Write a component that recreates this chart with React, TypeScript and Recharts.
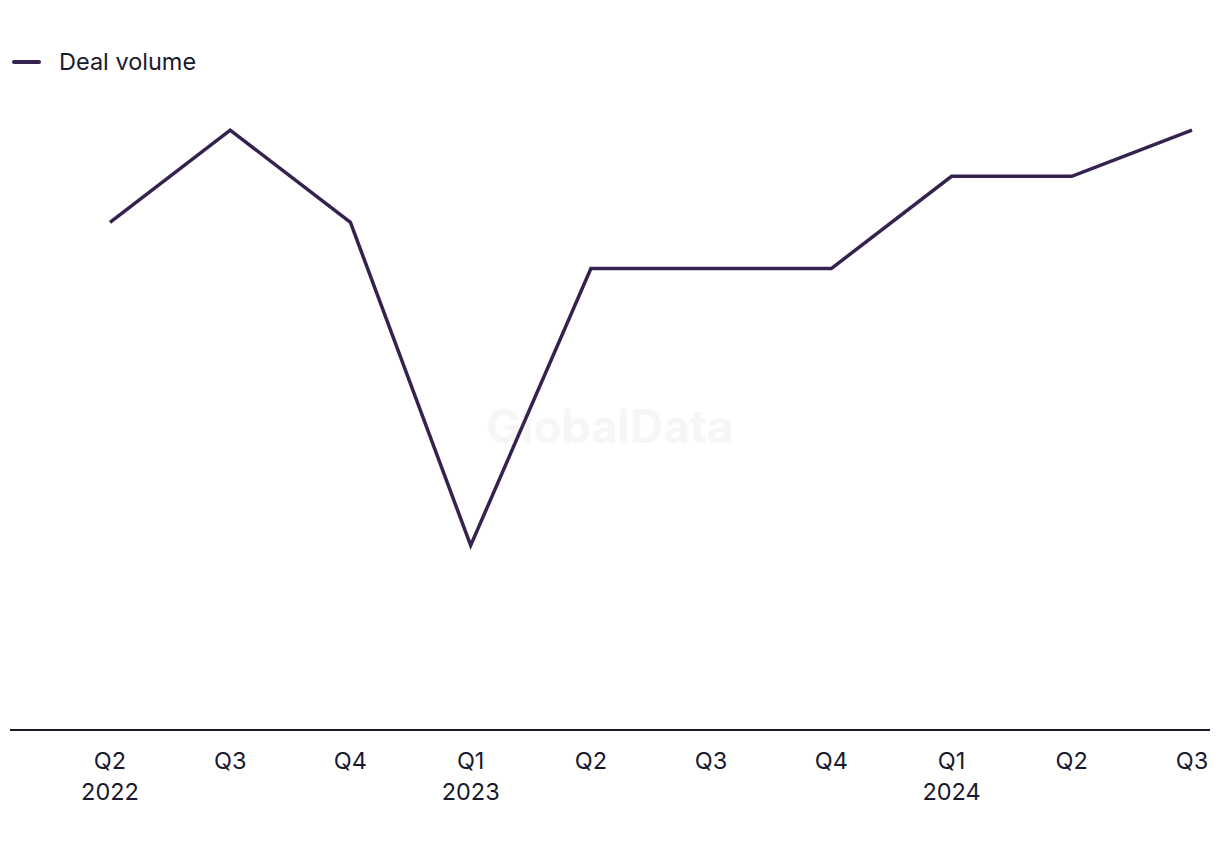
import { LineChart, Line, XAxis, YAxis } from 'recharts'

const quarters = ['Q2', 'Q3', 'Q4', 'Q1', 'Q2', 'Q3', 'Q4', 'Q1', 'Q2', 'Q3']
const years = ['2022', '', '', '2023', '', '', '', '2024', '', '']
const dealVolume = [11, 13, 11, 4, 10, 10, 10, 12, 12, 13]

const data = quarters.map((q, i) => ({ key: `${q}-${i}`, q, year: years[i], volume: dealVolume[i] }))

const LINE = '#35224f'
const TEXT = '#1a1a2e'
const FONT = 'Inter, "Noto Sans", sans-serif'

function QuarterTick({ x, y, payload }: { x?: number; y?: number; payload?: { index: number } }) {
  const d = data[payload?.index ?? 0]
  return (
    <g transform={`translate(${x},${y})`}>
      <text x={0} y={31} textAnchor="middle" fill={TEXT} fontSize={23.5} fontFamily={FONT}>{d.q}</text>
      {d.year && (
        <text x={0} y={62} textAnchor="middle" fill={TEXT} fontSize={23.5} fontFamily={FONT}>{d.year}</text>
      )}
    </g>
  )
}

export default function App() {
  return (
    <div style={{ position: 'absolute', left: 0, top: 0, width: 1220, height: 850, background: '#fff' }}>
      <div
        style={{
          position: 'absolute', left: 0, top: 398, width: 1220, textAlign: 'center',
          fontFamily: FONT, fontWeight: 700, fontSize: 46, color: '#f6f6f6',
        }}
      >
        GlobalData
      </div>
      <div
        style={{
          position: 'absolute', left: 12, top: 47, display: 'flex', alignItems: 'center',
          fontFamily: FONT, fontSize: 23.5, color: TEXT,
        }}
      >
        <span style={{ display: 'inline-block', width: 29, height: 4, borderRadius: 2, background: LINE, marginRight: 18 }} />
        Deal volume
      </div>
      <LineChart width={1220} height={850} data={data} margin={{ top: 84, right: 10, bottom: 60, left: 10 }}>
        <XAxis
          dataKey="key"
          height={60}
          padding={{ left: 100, right: 18 }}
          axisLine={{ stroke: TEXT, strokeWidth: 2 }}
          tickLine={false}
          interval={0}
          tick={<QuarterTick />}
        />
        <YAxis hide domain={[0, 14]} />
        <Line
          type="linear"
          dataKey="volume"
          name="Deal volume"
          stroke={LINE}
          strokeWidth={3.5}
          dot={false}
          activeDot={false}
          isAnimationActive={false}
        />
      </LineChart>
    </div>
  )
}
